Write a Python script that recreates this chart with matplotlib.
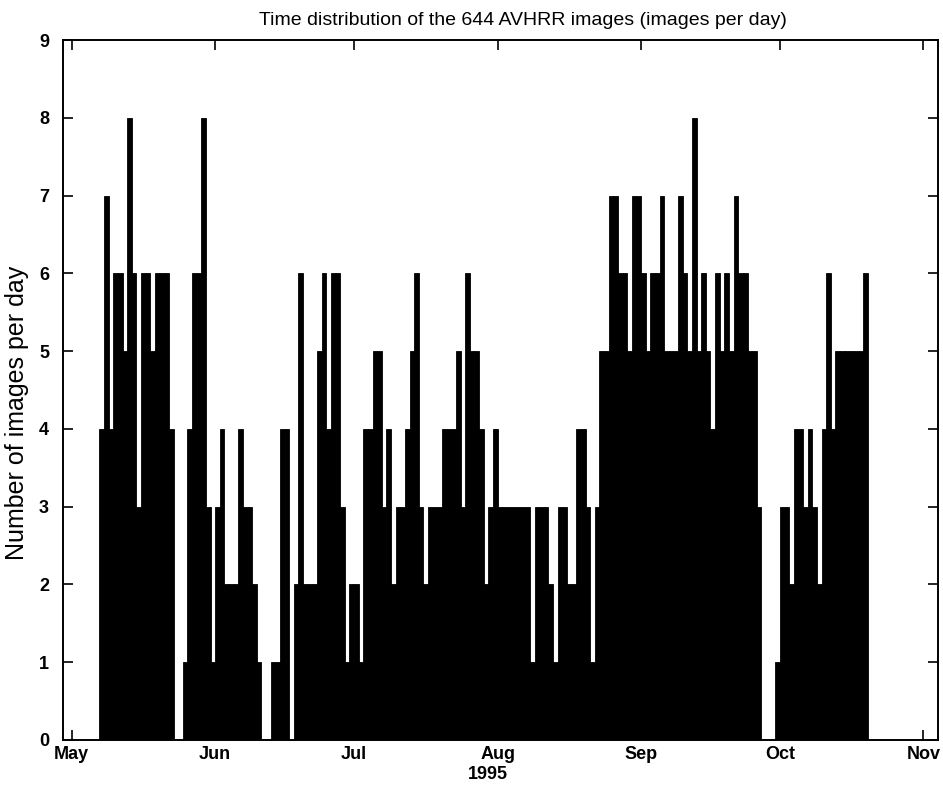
import matplotlib
matplotlib.use('Agg')
import matplotlib.pyplot as plt
import matplotlib.dates as mdates
import pandas as pd

plt.rcParams['font.family'] = ['Liberation Sans', 'DejaVu Sans']

# images per day, first bar on 7 May 1995
first_day = '1995-05-07'
may_counts = [4, 7, 4, 6, 6, 5, 8, 6, 3, 6, 6, 5, 6, 6, 6, 4]
jun_counts = [0, 0, 1, 4, 6, 6, 8, 3, 1, 3, 4,
              2, 2, 2, 4, 3, 3, 2, 1, 0, 0,
              1, 1, 4, 4, 0]
jul_counts = [2, 6, 2, 2, 2,
              5, 6, 4, 6, 6, 3, 1, 2, 2, 1,
              4, 4, 5, 5, 3, 4, 2, 3, 3, 4,
              5, 6, 3, 2, 3, 3, 3, 4, 4, 4]
aug_counts = [5, 3, 6, 5, 5, 4, 2, 3, 4, 3,
              3, 3, 3, 3, 3, 3, 1, 3, 3, 3,
              2, 1, 3, 3, 2, 2, 4, 4, 3, 1]
sep_counts = [3, 5, 5, 7, 7, 6, 6, 5, 7, 7,
              6, 5, 6, 6, 7, 5, 5, 5, 7, 6,
              5, 8, 5, 6, 5, 4, 6, 5, 6, 5,
              7, 6, 6, 5, 5, 3, 0, 0, 0]
oct_counts = [1, 3, 3, 2, 4, 4, 3, 4, 3, 2, 4,
              6, 4, 5, 5, 5, 5, 5, 5, 6]

counts = may_counts + jun_counts + jul_counts + aug_counts + sep_counts + oct_counts
days = pd.date_range(first_day, periods=len(counts), freq='D')

fig = plt.figure(figsize=(9.43, 7.90), dpi=100)
ax = fig.add_axes([0.0668, 0.0633, 0.9282, 0.886])

ax.bar(days, counts, width=1.0, align='edge', color='black',
       edgecolor='black', linewidth=0.6)

ax.set_xlim(pd.Timestamp('1995-04-29 03:00'), pd.Timestamp('1995-11-04 05:00'))
ax.set_ylim(0, 9)
ax.set_yticks(range(10))
ax.xaxis.set_major_locator(mdates.MonthLocator())
ax.xaxis.set_major_formatter(mdates.DateFormatter('%b'))
ax.tick_params(direction='in', top=True, right=True, length=7, width=1.2,
               labelsize=13)
ax.tick_params(axis='x', pad=4)
ax.tick_params(axis='y', pad=10)
for lab in ax.get_xticklabels() + ax.get_yticklabels():
    lab.set_fontweight('bold')
for sp in ax.spines.values():
    sp.set_linewidth(1.4)

ax.set_ylabel('Number of images per day', fontsize=18)
ax.yaxis.set_label_coords(-0.039, 0.467)
ax.set_title('Time distribution of the 644 AVHRR images (images per day)',
             fontsize=14, pad=11, x=0.525)
ax.text(pd.Timestamp('1995-07-30'), -0.45, '1995', ha='center', va='center',
        fontsize=13, fontweight='bold', clip_on=False)

fig.savefig('out.png', dpi=100)
